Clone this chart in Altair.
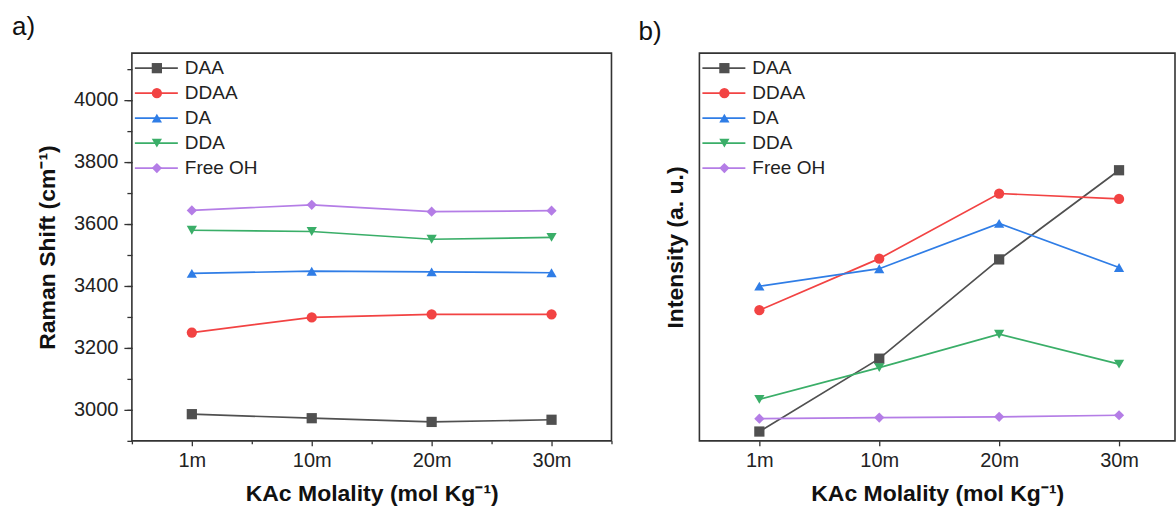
import json
import altair as alt
import pandas as pd

# ---- data ----
molality = ["1m", "10m", "20m", "30m"]
series = ["DAA", "DDAA", "DA", "DDA", "Free OH"]
colors = ["#505050", "#f24343", "#2f7de6", "#3aae68", "#b47de6"]
shapes = ["square", "circle", "triangle-up", "triangle-down", "diamond"]

# panel a: Raman shift (cm^-1)
raman_daa = [2986, 2973, 2961, 2968]
raman_ddaa = [3249, 3298, 3308, 3308]
raman_da = [3440, 3447, 3445, 3442]
raman_dda = [3579, 3575, 3550, 3556]
raman_free = [3643, 3661, 3639, 3642]

# panel b: intensity (a. u.)
int_daa = [2.4, 21.2, 46.8, 69.8]
int_ddaa = [33.7, 47.0, 63.8, 62.4]
int_da = [39.9, 44.4, 56.1, 44.7]
int_dda = [10.7, 18.9, 27.5, 19.8]
int_free = [5.7, 6.0, 6.2, 6.6]

FONT = "Liberation Sans"


def long_df(cols):
    rows = []
    for name, vals in zip(series, cols):
        for i, (m, v) in enumerate(zip(molality, vals)):
            rows.append({"idx": i, "molality": m, "series": name, "value": v})
    return pd.DataFrame(rows)


df_a = long_df([raman_daa, raman_ddaa, raman_da, raman_dda, raman_free])
df_b = long_df([int_daa, int_ddaa, int_da, int_dda, int_free])
leg_df = pd.DataFrame({"series": series})

label_expr = json.dumps(molality) + "[datum.value]"
color_enc = alt.Color("series:N", scale=alt.Scale(domain=series, range=colors), legend=None)
shape_enc = alt.Shape("series:N", scale=alt.Scale(domain=series, range=shapes), legend=None)
xtitle = "KAc Molality (mol Kg\u207b\u00b9)"
MSIZE = 105


def panel(df, xdomain, ydomain, ytitle, ymajor, yminor, xminor, tag, tag_xy, width, ylabels):
    xs = alt.Scale(domain=xdomain, nice=False, zero=False)
    ys = alt.Scale(domain=ydomain, nice=False, zero=False)
    x_major = alt.X("idx:Q", scale=xs, axis=alt.Axis(
        values=[0, 1, 2, 3], labelExpr=label_expr, title=xtitle, orient="bottom",
        tickSize=5, labelPadding=5, titlePadding=12))
    if xminor:
        x_minor = alt.X("idx:Q", scale=xs, axis=alt.Axis(
            values=xminor, labels=False, title=None, orient="bottom", tickSize=3))
    else:
        x_minor = alt.X("idx:Q", scale=xs, axis=None)
    if ylabels:
        y_major = alt.Y("value:Q", scale=ys, axis=alt.Axis(
            values=ymajor, format="d", title=ytitle, orient="left", tickSize=8,
            labelPadding=6, titlePadding=14))
        y_minor = alt.Y("value:Q", scale=ys, axis=alt.Axis(
            values=yminor, labels=False, title=None, orient="left", tickSize=5))
    else:
        y_major = alt.Y("value:Q", scale=ys, axis=alt.Axis(
            title=ytitle, orient="left", labels=False, ticks=False, titlePadding=12))
        y_minor = alt.Y("value:Q", scale=ys, axis=None)

    lines = alt.Chart(df).mark_line(strokeWidth=1.7).encode(
        x=x_major, y=y_major, color=color_enc, detail="series:N")
    points = alt.Chart(df).mark_point(filled=True, size=MSIZE, opacity=1).encode(
        x=x_minor, y=y_minor, color=color_enc, shape=shape_enc)

    leg_y = alt.Y("series:N", sort=series, axis=None,
                  scale=alt.Scale(type="point", domain=series, range=[15, 115], padding=0))
    leg_rule = alt.Chart(leg_df).mark_rule(strokeWidth=1.7).encode(
        x=alt.value(3), x2=alt.value(46), y=leg_y, color=color_enc)
    leg_pts = alt.Chart(leg_df).mark_point(filled=True, size=MSIZE, opacity=1).encode(
        x=alt.value(25), y=leg_y, color=color_enc, shape=shape_enc)
    leg_txt = alt.Chart(leg_df).mark_text(
        align="left", baseline="middle", fontSize=19, font=FONT, color="#222").encode(
        x=alt.value(53), y=leg_y, text="series:N")

    tag_txt = alt.Chart(pd.DataFrame({"tag": [tag]})).mark_text(
        align="left", baseline="middle", fontSize=26, font=FONT, color="#111").encode(
        x=alt.value(tag_xy[0]), y=alt.value(tag_xy[1]), text="tag:N")

    return alt.layer(lines, points, leg_rule, leg_pts, leg_txt, tag_txt).resolve_scale(
        y="independent").resolve_axis(x="independent", y="independent").properties(
        width=width, height=388)


panel_a = panel(df_a, [-0.5, 3.5], [2900, 4150], "Raman Shift (cm\u207b\u00b9)",
                list(range(3000, 4001, 200)), list(range(2900, 4101, 100)),
                [-0.5, 0.5, 1.5, 2.5, 3.5], "a)", (-120, -26), 480, True)
panel_b = panel(df_b, [-0.5, -0.5 + 476 / 120], [0, 100], "Intensity (a. u.)",
                None, None, None, "b)", (-61, -21), 476, False)

chart = alt.hconcat(panel_a, panel_b, spacing=88, bounds="flush").properties(
    padding={"left": 11, "top": 13, "right": 0, "bottom": 0},
    background="white"
).configure_view(
    stroke="#333333", strokeWidth=1.6
).configure_axis(
    grid=False, domain=False, labelFont=FONT, labelFontSize=20, labelColor="#222222",
    tickColor="#333333", tickWidth=1.3, titleFont=FONT, titleFontSize=23,
    titleFontWeight="bold", titleColor="#111111"
)

chart.save("out.html", embed_options={"renderer": "svg", "actions": False})
